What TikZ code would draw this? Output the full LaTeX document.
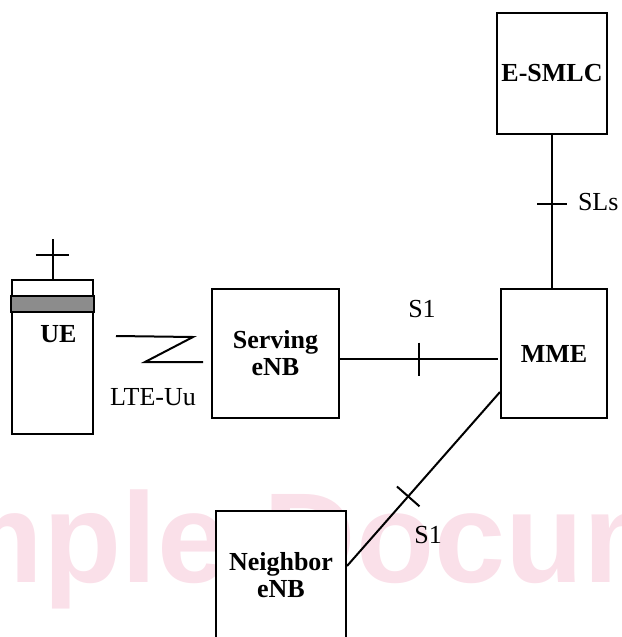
\documentclass[tikz,border=0pt]{standalone}
\usepackage{fontspec}
\setmainfont{Liberation Serif}
\newfontfamily\markfont{Liberation Sans}
\usetikzlibrary{positioning,calc}
\definecolor{markpink}{RGB}{250,224,233}
\definecolor{bandgray}{RGB}{140,140,140}

\begin{document}
\begin{tikzpicture}[x=1pt, y=-1pt, line width=2pt,
    box/.style={draw, fill=white, inner sep=0pt, align=center, font=\fontsize{26}{27}\selectfont\bfseries},
    lbl/.style={inner sep=0pt, font=\fontsize{26}{27}\selectfont}]
        \clip (0,0) rectangle (621,637);

        % Watermark
        \node[anchor=base west, inner sep=0pt, text=markpink, font=\markfont\bfseries\fontsize{128}{128}\selectfont] (mark) at (-228,582) {Sample Document};

        % Network boxes
        \node[box, minimum width=110, minimum height=121] (esmlc) at (552,73.5) {E-SMLC};
        \node[box, minimum width=106, minimum height=129] (mme) at (554,353.5) {MME};
        \node[box, minimum width=127, minimum height=129] (serving) at (275.5,353.5) {Serving\\eNB};
        \node[box, minimum width=130, minimum height=129] (neighbor) at (281,575.5) {Neighbor\\eNB};

        % UE handset
        \node[draw, inner sep=0pt, minimum width=81, minimum height=154] (ue) at (52.5,357) {};
        \draw[fill=bandgray] ([yshift=-17pt]ue.north west) rectangle ([yshift=-33pt]ue.north east);
        \node[lbl, font=\fontsize{26}{27}\selectfont\bfseries, below=45pt of ue.north, xshift=6pt] (uelabel) {UE};
        \coordinate (ant) at ([yshift=40pt]ue.north);
        \draw (ue.north) -- (ant);
        \draw ([xshift=-17pt,yshift=-16pt]ant) -- ([xshift=16pt,yshift=-16pt]ant);

        % Radio link
        \draw (116,336) -- (193,337) -- (145,362) -- (203,362);
        \node[lbl] (uu) at (153,397) {LTE-Uu};

        % SLs interface
        \draw (esmlc.south) -- coordinate[pos=0.45] (tsls) (esmlc.south |- mme.north);
        \draw ([xshift=-15pt]tsls) -- ([xshift=15pt]tsls);
        \node[lbl, right=25pt of tsls, yshift=2pt] (sls) {SLs};

        % S1 to serving eNB
        \draw ([yshift=-5.5pt]serving.east) -- coordinate[pos=0.5] (ts1) ([yshift=-5.5pt,xshift=-2pt]mme.west);
        \draw ([yshift=16.5pt]ts1) -- ([yshift=-16.5pt]ts1);
        \node[lbl, above=40pt of ts1, xshift=3pt] (s1a) {S1};

        % S1 to neighbor eNB
        \coordinate (m2) at ([yshift=-38.5pt]mme.west);
        \coordinate (n2) at ([yshift=9.5pt]neighbor.east);
        \draw (m2) -- coordinate[pos=0.6] (ts2) (n2);
        \draw ($(ts2)!15pt!90:(m2)$) -- ($(ts2)!15pt!-90:(m2)$);
        \node[lbl] (s1b) at ($(ts2)+(20,39)$) {S1};
\end{tikzpicture}
\end{document}
